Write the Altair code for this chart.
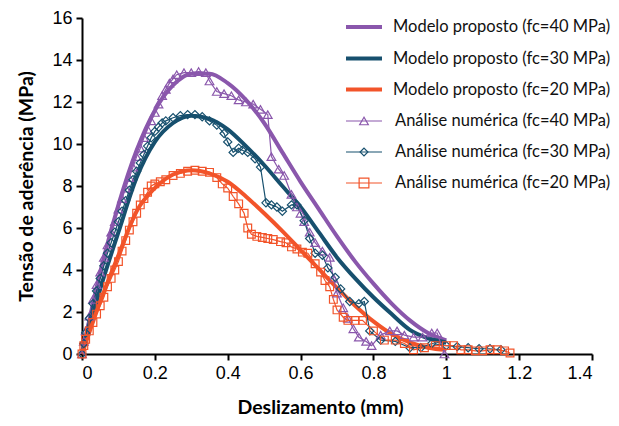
import altair as alt
import pandas as pd

# ---- Modelo proposto (smooth curves) ----
model_x = [0, 0.05, 0.1, 0.15, 0.2, 0.25, 0.3, 0.35, 0.4, 0.45, 0.5,
           0.55, 0.6, 0.65, 0.7, 0.75, 0.8, 0.85, 0.9, 0.95, 1.0]
model_40 = [0, 3.9, 7.1, 9.7, 11.6, 12.8, 13.35, 13.35, 12.9, 12.1, 11.0,
            9.6, 8.2, 6.9, 5.6, 4.4, 3.35, 2.4, 1.6, 1.0, 0.65]
model_30 = [0, 3.1, 5.8, 8.4, 10.1, 11.0, 11.35, 11.2, 10.7, 9.9, 9.0,
            8.0, 7.0, 5.8, 4.6, 3.6, 2.7, 1.9, 1.15, 0.75, 0.55]
model_20 = [0, 2.5, 4.7, 6.8, 7.9, 8.55, 8.75, 8.6, 8.2, 7.5, 6.7,
            5.85, 4.95, 4.05, 3.15, 2.3, 1.55, 0.95, 0.55, 0.3, 0.2]

# ---- Análise numérica (markers) ----
num40_x = [0, 0.005, 0.01, 0.02, 0.03, 0.04, 0.05, 0.06, 0.07, 0.08, 0.09, 0.1,
           0.11, 0.12, 0.13, 0.14, 0.15, 0.16, 0.17, 0.18, 0.19, 0.2, 0.21, 0.22,
           0.23, 0.24, 0.25, 0.26, 0.28, 0.3, 0.32, 0.34, 0.35, 0.37, 0.39, 0.41,
           0.43, 0.45, 0.47, 0.49, 0.51, 0.52, 0.54, 0.555, 0.575, 0.59, 0.6, 0.61,
           0.625, 0.64, 0.66, 0.68, 0.69, 0.70, 0.717, 0.73, 0.745, 0.76, 0.78,
           0.795, 0.82, 0.845, 0.865, 0.885, 0.91, 0.935, 0.96, 0.975, 0.995]
num40_y = [0, 0.6, 1.1, 1.8, 2.6, 3.3, 3.9, 4.6, 5.2, 5.8, 6.3, 6.9,
           7.4, 7.9, 8.4, 8.9, 9.4, 9.8, 10.3, 10.7, 11.1, 11.5, 11.9, 12.3,
           12.6, 12.9, 13.1, 13.3, 13.4, 13.4, 13.45, 13.4, 13.0, 12.5, 12.4, 12.3,
           12.1, 12.0, 11.9, 11.65, 11.4, 9.4, 8.8, 8.5, 7.6, 7.0, 6.7, 6.3,
           5.8, 5.3, 4.9, 4.6, 3.6, 2.9, 2.2, 1.7, 1.2, 0.8, 0.6,
           0.4, 0.9, 1.1, 1.1, 0.9, 0.8, 0.8, 1.0, 1.0, 0.0]

num30_x = [0, 0.005, 0.01, 0.02, 0.03, 0.04, 0.05, 0.06, 0.07, 0.08, 0.09, 0.1,
           0.11, 0.12, 0.13, 0.14, 0.15, 0.16, 0.17, 0.18, 0.19, 0.2, 0.21, 0.22,
           0.23, 0.25, 0.27, 0.29, 0.31, 0.33, 0.35, 0.37, 0.39, 0.40, 0.415, 0.43,
           0.44, 0.455, 0.475, 0.49, 0.505, 0.52, 0.535, 0.55, 0.575, 0.59, 0.61,
           0.625, 0.64, 0.66, 0.675, 0.695, 0.71, 0.735, 0.76, 0.775, 0.79, 0.82,
           0.86, 0.9, 0.93, 0.96, 1.0, 1.03, 1.06, 1.09, 1.12, 1.15]
num30_y = [0, 0.5, 1.0, 1.7, 2.4, 3.0, 3.6, 4.2, 4.8, 5.3, 5.8, 6.3,
           6.8, 7.3, 7.8, 8.3, 8.7, 9.1, 9.5, 9.9, 10.3, 10.6, 10.8, 11.0,
           11.1, 11.25, 11.35, 11.4, 11.4, 11.3, 11.1, 10.9, 10.5, 10.1, 9.6, 9.8,
           9.7, 9.6, 9.3, 8.9, 7.2, 7.1, 7.0, 6.8, 7.1, 7.1, 6.35,
           5.5, 4.8, 4.7, 4.1, 3.65, 3.1, 2.5, 2.4, 2.5, 1.1, 0.66,
           0.6, 0.3, 0.3, 0.5, 0.4, 0.35, 0.3, 0.25, 0.25, 0.2]

num20_x = [0, 0.005, 0.01, 0.02, 0.03, 0.04, 0.05, 0.06, 0.07, 0.08, 0.09, 0.1,
           0.11, 0.12, 0.13, 0.14, 0.15, 0.16, 0.17, 0.18, 0.19, 0.2, 0.215, 0.23,
           0.25, 0.27, 0.29, 0.31, 0.33, 0.35, 0.37, 0.385, 0.4, 0.415, 0.43, 0.445,
           0.455, 0.465, 0.48, 0.495, 0.51, 0.525, 0.545, 0.56, 0.575, 0.59, 0.605,
           0.62, 0.64, 0.655, 0.667, 0.68, 0.69, 0.7, 0.717, 0.73, 0.75, 0.77, 0.8,
           0.83, 0.86, 0.885, 0.91, 0.94, 0.97, 1.0, 1.02, 1.04, 1.06, 1.08, 1.1,
           1.12, 1.14, 1.16, 1.175]
num20_y = [0, 0.4, 0.7, 1.1, 1.5, 1.9, 2.3, 2.7, 3.2, 3.6, 4.0, 4.4,
           4.9, 5.4, 5.9, 6.3, 6.7, 7.1, 7.4, 7.7, 8.0, 8.1, 8.2, 8.3,
           8.5, 8.6, 8.7, 8.75, 8.7, 8.65, 8.4, 8.1, 7.9, 7.5, 7.15, 6.7,
           6.0, 5.7, 5.6, 5.55, 5.5, 5.45, 5.35, 5.3, 5.1, 5.0, 4.85,
           4.8, 4.3, 3.9, 3.5, 3.2, 2.6, 2.1, 1.75, 1.6, 1.6, 1.6, 1.1,
           0.66, 0.66, 0.5, 0.2, 0.3, 0.4, 0.4, 0.4, 0.2, 0.2, 0.15, 0.15,
           0.2, 0.2, 0.15, 0.05]

x_ticks = [0, 0.2, 0.4, 0.6, 0.8, 1.0, 1.2, 1.4]
y_ticks = [0, 2, 4, 6, 8, 10, 12, 14, 16]

C40, C30, C20 = "#8A57AC", "#17506E", "#F2542A"

model_series = ["Modelo proposto (fc=40 MPa)", "Modelo proposto (fc=30 MPa)", "Modelo proposto (fc=20 MPa)"]
num_series = ["Análise numérica (fc=40 MPa)", "Análise numérica (fc=30 MPa)", "Análise numérica (fc=20 MPa)"]
colors = [C40, C30, C20]
shapes = ["triangle-up", "diamond", "square"]
sizes = [75, 60, 95]

rows = []
for s, ys in zip(model_series, [model_40, model_30, model_20]):
    for i, (x, y) in enumerate(zip(model_x, ys)):
        rows.append({"s": s, "x": x, "y": y, "o": i})
model_df = pd.DataFrame(rows)

rows = []
for s, xs, ys in zip(num_series, [num40_x, num30_x, num20_x], [num40_y, num30_y, num20_y]):
    for i, (x, y) in enumerate(zip(xs, ys)):
        rows.append({"s": s, "x": x, "y": y, "o": i})
num_df = pd.DataFrame(rows)

xsc = alt.Scale(domain=[0, 1.4], nice=False, zero=False)
ysc = alt.Scale(domain=[0, 16], nice=False)

X = alt.X("x:Q", scale=xsc,
          axis=alt.Axis(values=x_ticks, format="~g", title="Deslizamento (mm)",
                        titlePadding=16, titleX=238, titleAlign="center"))
Y = alt.Y("y:Q", scale=ysc,
          axis=alt.Axis(values=y_ticks, format="d", title="Tensão de aderência (MPa)", titlePadding=15))

model_layer = alt.Chart(model_df).mark_line(strokeWidth=4, interpolate="monotone", clip=False).encode(
    x=X, y=Y,
    color=alt.Color("s:N", scale=alt.Scale(domain=model_series, range=colors), legend=None),
    detail="s:N", order="o:Q")

num_line = alt.Chart(num_df).mark_line(strokeWidth=1.2).encode(
    x=alt.X("x:Q", scale=xsc), y=alt.Y("y:Q", scale=ysc),
    stroke=alt.Stroke("s:N", scale=alt.Scale(domain=num_series, range=colors), legend=None),
    detail="s:N", order="o:Q")

num_pts = alt.Chart(num_df).mark_point(filled=False, strokeWidth=1.2, opacity=1).encode(
    x=alt.X("x:Q", scale=xsc), y=alt.Y("y:Q", scale=ysc),
    stroke=alt.Stroke("s:N", scale=alt.Scale(domain=num_series, range=colors), legend=None),
    shape=alt.Shape("s:N", scale=alt.Scale(domain=num_series, range=shapes), legend=None),
    size=alt.Size("s:N", scale=alt.Scale(domain=num_series, range=sizes), legend=None))

# ---- manual legend ----
one = pd.DataFrame({"k": [0]})
legend_layers = []
row_y = [9, 40.5, 71.5, 103, 134, 165]
labels = model_series + num_series
for i, lab in enumerate(labels):
    c = colors[i % 3]
    yy = row_y[i]
    if i < 3:
        legend_layers.append(alt.Chart(one).mark_rule(strokeWidth=4, color=c).encode(
            x=alt.value(264), x2=alt.value(300), y=alt.value(yy)))
        tx = 311
    else:
        legend_layers.append(alt.Chart(one).mark_rule(strokeWidth=1.2, color=c).encode(
            x=alt.value(264), x2=alt.value(300), y=alt.value(yy)))
        legend_layers.append(alt.Chart(one).mark_point(filled=False, strokeWidth=1.2, color=c, opacity=1,
                                                       shape=shapes[i % 3], size=sizes[i % 3]).encode(
            x=alt.value(282), y=alt.value(yy)))
        tx = 313
    legend_layers.append(alt.Chart(one).mark_text(align="left", baseline="middle", font="Lato",
                                                  fontSize=16.5, color="#111111", text=lab).encode(
        x=alt.value(tx), y=alt.value(yy)))

chart = alt.layer(model_layer, num_line, num_pts, *legend_layers).properties(
    width=510, height=336,
    autosize=alt.AutoSizeParams(type="none"),
    padding={"left": 74, "top": 10, "right": 19, "bottom": 64},
).configure_view(stroke=None).configure_axis(
    grid=False, domainColor="black", domainWidth=2, tickColor="black", tickWidth=2, tickSize=6,
    labelFont="Liberation Sans", labelFontSize=18, labelColor="black", labelPadding=4,
    titleFont="Lato", titleFontSize=19.5, titleFontWeight="bold", titleColor="black")

chart.save("out.html", embed_options={"renderer": "svg", "actions": False})
